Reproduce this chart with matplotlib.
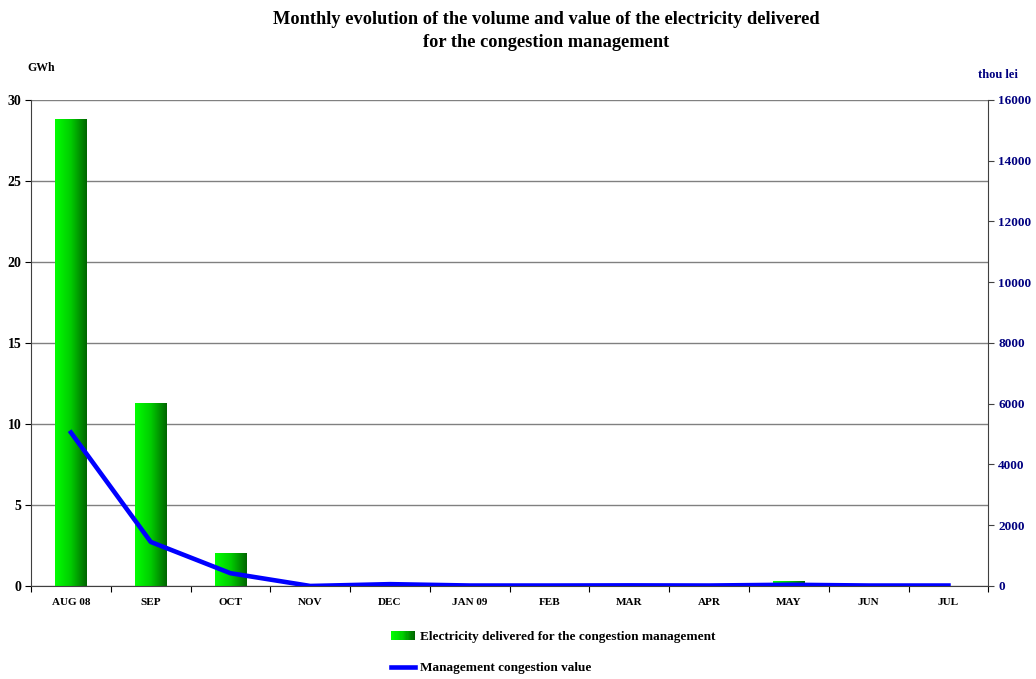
import matplotlib
matplotlib.use("Agg")
import matplotlib.pyplot as plt
import numpy as np
from matplotlib.patches import Rectangle
from matplotlib.legend_handler import HandlerBase
from matplotlib.lines import Line2D
from matplotlib.colors import LinearSegmentedColormap

plt.rcParams['font.family'] = ['Liberation Serif', 'DejaVu Serif']
plt.rcParams['font.weight'] = 'bold'

months = ["AUG 08", "SEP", "OCT", "NOV", "DEC", "JAN 09", "FEB", "MAR", "APR", "MAY", "JUN", "JUL"]
volume_gwh = [28.8, 11.25, 2.0, 0.0, 0.0, 0.0, 0.0, 0.0, 0.0, 0.25, 0.0, 0.0]
value_thou_lei = [5050, 1450, 420, 0, 60, 15, 15, 20, 15, 40, 15, 15]

navy = "#000080"
green_cmap = LinearSegmentedColormap.from_list("g", ["#00ff00", "#00cc00", "#006600"])


class GradientHandler(HandlerBase):
    def create_artists(self, legend, orig, xdescent, ydescent, width, height, fontsize, trans):
        n = 20
        arts = []
        for i in range(n):
            r = Rectangle((-xdescent + width * i / n, -ydescent), width / n + 0.3, height,
                          facecolor=green_cmap(i / (n - 1)), edgecolor='none', transform=trans)
            arts.append(r)
        return arts


fig = plt.figure(figsize=(10.36, 6.79), dpi=100)
ax = fig.add_axes([0.030, 0.137, 0.924, 0.716])
x = np.arange(len(months))
bw = 0.39

grad = np.linspace(0, 1, 64).reshape(1, -1)
for xi, v in zip(x, volume_gwh):
    if v > 0:
        ax.imshow(grad, cmap=green_cmap, aspect='auto', extent=(xi - bw / 2, xi + bw / 2, 0, v),
                  zorder=2, interpolation='bilinear')
ax.set_xlim(-0.5, len(months) - 0.5)
ax.set_ylim(0, 30)

ax.set_yticks(range(0, 31, 5))
ax.yaxis.grid(True, color='#808080', linewidth=1)
ax.set_axisbelow(True)
ax.set_xticks(np.arange(-0.5, len(months), 1))
ax.set_xticklabels([])
ax.set_xticks(x, minor=True)
ax.set_xticklabels(months, minor=True, fontsize=8, fontweight='bold')
ax.tick_params(axis='x', which='minor', length=0, pad=9)
ax.tick_params(axis='x', which='major', length=4, direction='out')
ax.tick_params(axis='y', length=4, labelsize=10, pad=3)
for s in ['left', 'bottom']:
    ax.spines[s].set_color('#404040')
ax.spines['top'].set_visible(False)
ax.spines['right'].set_visible(False)

ax2 = ax.twinx()
ax2.plot(x, value_thou_lei, color='#0000ff', linewidth=3.3, zorder=3)
ax2.set_ylim(0, 16000)
ax2.set_yticks(range(0, 16001, 2000))
ax2.tick_params(axis='y', colors='#404040', labelcolor=navy, labelsize=9.5, length=4, pad=3)
for lbl in ax2.get_yticklabels():
    lbl.set_fontweight('bold')
ax2.spines['right'].set_color('#404040')
ax2.spines['top'].set_visible(False)
ax2.spines['left'].set_visible(False)
ax2.spines['bottom'].set_visible(False)

fig.text(0.527, 0.954, "Monthly evolution of the volume and value of the electricity delivered\nfor the congestion management",
         ha='center', va='center', fontsize=13.2, fontweight='bold', linespacing=1.45)
fig.text(0.026, 0.895, "GWh", fontsize=8.5, fontweight='bold')
fig.text(0.944, 0.885, "thou lei", fontsize=9, fontweight='bold', color=navy)

h1 = Rectangle((0, 0), 1, 1)
h2 = Line2D([0], [0], color='#0000ff', linewidth=3.3)
fig.legend([h1, h2], ["Electricity delivered for the congestion management", "Management congestion value"],
           handler_map={Rectangle: GradientHandler()}, loc='upper left', bbox_to_anchor=(0.377, 0.071),
           frameon=False, fontsize=9.5, handlelength=1.85, handletextpad=0.35, labelspacing=1.45,
           borderaxespad=0, borderpad=0)

fig.savefig("out.png", dpi=100)
